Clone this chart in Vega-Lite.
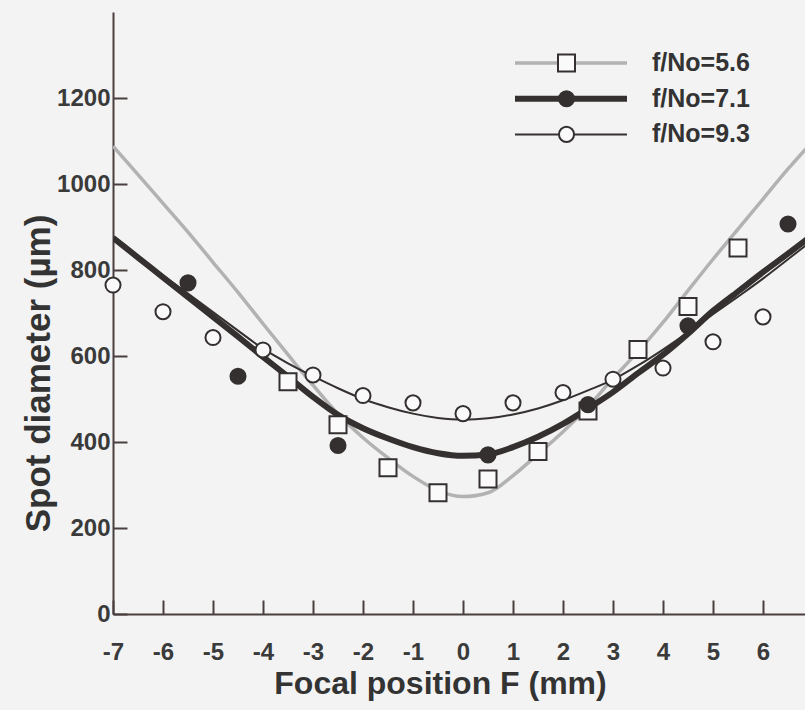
{
  "$schema": "https://vega.github.io/schema/vega-lite/v6.json",
  "width": 692,
  "height": 602,
  "autosize": {"type": "none"},
  "padding": {"left": 113, "top": 12, "right": 0, "bottom": 96},
  "background": "#f3f3f3",
  "config": {
    "view": {"stroke": null},
    "font": "Liberation Sans",
    "axis": {
      "grid": false,
      "domainColor": "#4a3f3f",
      "domainWidth": 2,
      "tickColor": "#4a3f3f",
      "tickWidth": 2,
      "tickSize": -14,
      "labelFont": "Liberation Sans",
      "labelFontSize": 24,
      "labelFontWeight": "bold",
      "labelColor": "#3a3a3a",
      "labelOverlap": false,
      "labelFlush": false,
      "labelExpr": "'' + datum.value",
      "titleFont": "Liberation Sans",
      "titleFontSize": 32,
      "titleFontWeight": "bold",
      "titleColor": "#333333"
    },
    "legend": {
      "labelFont": "Liberation Sans",
      "labelFontSize": 25,
      "labelFontWeight": "bold",
      "labelColor": "#333333"
    }
  },
  "datasets": {
    "curves": [
      {"F": -7, "d": 1088, "series": "f/No=5.6"},
      {"F": -6.5, "d": 1022, "series": "f/No=5.6"},
      {"F": -6, "d": 955, "series": "f/No=5.6"},
      {"F": -5.5, "d": 888, "series": "f/No=5.6"},
      {"F": -5, "d": 818, "series": "f/No=5.6"},
      {"F": -4.5, "d": 748, "series": "f/No=5.6"},
      {"F": -4, "d": 675, "series": "f/No=5.6"},
      {"F": -3.5, "d": 603, "series": "f/No=5.6"},
      {"F": -3, "d": 532, "series": "f/No=5.6"},
      {"F": -2.5, "d": 465, "series": "f/No=5.6"},
      {"F": -2, "d": 410, "series": "f/No=5.6"},
      {"F": -1.5, "d": 363, "series": "f/No=5.6"},
      {"F": -1, "d": 320, "series": "f/No=5.6"},
      {"F": -0.5, "d": 287, "series": "f/No=5.6"},
      {"F": 0, "d": 273, "series": "f/No=5.6"},
      {"F": 0.5, "d": 282, "series": "f/No=5.6"},
      {"F": 1, "d": 322, "series": "f/No=5.6"},
      {"F": 1.5, "d": 372, "series": "f/No=5.6"},
      {"F": 2, "d": 424, "series": "f/No=5.6"},
      {"F": 2.5, "d": 482, "series": "f/No=5.6"},
      {"F": 3, "d": 548, "series": "f/No=5.6"},
      {"F": 3.5, "d": 610, "series": "f/No=5.6"},
      {"F": 4, "d": 678, "series": "f/No=5.6"},
      {"F": 4.5, "d": 752, "series": "f/No=5.6"},
      {"F": 5, "d": 825, "series": "f/No=5.6"},
      {"F": 5.5, "d": 895, "series": "f/No=5.6"},
      {"F": 6, "d": 965, "series": "f/No=5.6"},
      {"F": 6.5, "d": 1035, "series": "f/No=5.6"},
      {"F": 7, "d": 1100, "series": "f/No=5.6"},
      {"F": -7, "d": 875, "series": "f/No=7.1"},
      {"F": -6.5, "d": 829, "series": "f/No=7.1"},
      {"F": -6, "d": 783, "series": "f/No=7.1"},
      {"F": -5.5, "d": 737, "series": "f/No=7.1"},
      {"F": -5, "d": 691, "series": "f/No=7.1"},
      {"F": -4.5, "d": 645, "series": "f/No=7.1"},
      {"F": -4, "d": 598, "series": "f/No=7.1"},
      {"F": -3.5, "d": 552, "series": "f/No=7.1"},
      {"F": -3, "d": 505, "series": "f/No=7.1"},
      {"F": -2.5, "d": 463, "series": "f/No=7.1"},
      {"F": -2, "d": 432, "series": "f/No=7.1"},
      {"F": -1.5, "d": 408, "series": "f/No=7.1"},
      {"F": -1, "d": 388, "series": "f/No=7.1"},
      {"F": -0.5, "d": 374, "series": "f/No=7.1"},
      {"F": 0, "d": 368, "series": "f/No=7.1"},
      {"F": 0.5, "d": 371, "series": "f/No=7.1"},
      {"F": 1, "d": 388, "series": "f/No=7.1"},
      {"F": 1.5, "d": 412, "series": "f/No=7.1"},
      {"F": 2, "d": 442, "series": "f/No=7.1"},
      {"F": 2.5, "d": 478, "series": "f/No=7.1"},
      {"F": 3, "d": 516, "series": "f/No=7.1"},
      {"F": 3.5, "d": 560, "series": "f/No=7.1"},
      {"F": 4, "d": 603, "series": "f/No=7.1"},
      {"F": 4.5, "d": 652, "series": "f/No=7.1"},
      {"F": 5, "d": 705, "series": "f/No=7.1"},
      {"F": 5.5, "d": 750, "series": "f/No=7.1"},
      {"F": 6, "d": 795, "series": "f/No=7.1"},
      {"F": 6.5, "d": 838, "series": "f/No=7.1"},
      {"F": 7, "d": 882, "series": "f/No=7.1"},
      {"F": -7, "d": 872, "series": "f/No=9.3"},
      {"F": -6.5, "d": 830, "series": "f/No=9.3"},
      {"F": -6, "d": 787, "series": "f/No=9.3"},
      {"F": -5.5, "d": 745, "series": "f/No=9.3"},
      {"F": -5, "d": 702, "series": "f/No=9.3"},
      {"F": -4.5, "d": 659, "series": "f/No=9.3"},
      {"F": -4, "d": 617, "series": "f/No=9.3"},
      {"F": -3.5, "d": 583, "series": "f/No=9.3"},
      {"F": -3, "d": 553, "series": "f/No=9.3"},
      {"F": -2.5, "d": 525, "series": "f/No=9.3"},
      {"F": -2, "d": 500, "series": "f/No=9.3"},
      {"F": -1.5, "d": 481, "series": "f/No=9.3"},
      {"F": -1, "d": 466, "series": "f/No=9.3"},
      {"F": -0.5, "d": 456, "series": "f/No=9.3"},
      {"F": 0, "d": 452, "series": "f/No=9.3"},
      {"F": 0.5, "d": 455, "series": "f/No=9.3"},
      {"F": 1, "d": 464, "series": "f/No=9.3"},
      {"F": 1.5, "d": 478, "series": "f/No=9.3"},
      {"F": 2, "d": 497, "series": "f/No=9.3"},
      {"F": 2.5, "d": 520, "series": "f/No=9.3"},
      {"F": 3, "d": 545, "series": "f/No=9.3"},
      {"F": 3.5, "d": 578, "series": "f/No=9.3"},
      {"F": 4, "d": 615, "series": "f/No=9.3"},
      {"F": 4.5, "d": 655, "series": "f/No=9.3"},
      {"F": 5, "d": 697, "series": "f/No=9.3"},
      {"F": 5.5, "d": 738, "series": "f/No=9.3"},
      {"F": 6, "d": 780, "series": "f/No=9.3"},
      {"F": 6.5, "d": 825, "series": "f/No=9.3"},
      {"F": 7, "d": 870, "series": "f/No=9.3"}
    ],
    "points": [
      {"F": -3.5, "d": 540, "fno": "f/No=5.6"},
      {"F": -2.5, "d": 440, "fno": "f/No=5.6"},
      {"F": -1.5, "d": 340, "fno": "f/No=5.6"},
      {"F": -0.5, "d": 282, "fno": "f/No=5.6"},
      {"F": 0.5, "d": 314, "fno": "f/No=5.6"},
      {"F": 1.5, "d": 378, "fno": "f/No=5.6"},
      {"F": 2.5, "d": 472, "fno": "f/No=5.6"},
      {"F": 3.5, "d": 615, "fno": "f/No=5.6"},
      {"F": 4.5, "d": 715, "fno": "f/No=5.6"},
      {"F": 5.5, "d": 851, "fno": "f/No=5.6"},
      {"F": -5.5, "d": 770, "fno": "f/No=7.1"},
      {"F": -4.5, "d": 553, "fno": "f/No=7.1"},
      {"F": -2.5, "d": 392, "fno": "f/No=7.1"},
      {"F": 0.5, "d": 370, "fno": "f/No=7.1"},
      {"F": 2.5, "d": 487, "fno": "f/No=7.1"},
      {"F": 4.5, "d": 670, "fno": "f/No=7.1"},
      {"F": 6.5, "d": 907, "fno": "f/No=7.1"},
      {"F": -7, "d": 765, "fno": "f/No=9.3"},
      {"F": -6, "d": 703, "fno": "f/No=9.3"},
      {"F": -5, "d": 643, "fno": "f/No=9.3"},
      {"F": -4, "d": 614, "fno": "f/No=9.3"},
      {"F": -3, "d": 556, "fno": "f/No=9.3"},
      {"F": -2, "d": 508, "fno": "f/No=9.3"},
      {"F": -1, "d": 491, "fno": "f/No=9.3"},
      {"F": 0, "d": 466, "fno": "f/No=9.3"},
      {"F": 1, "d": 491, "fno": "f/No=9.3"},
      {"F": 2, "d": 515, "fno": "f/No=9.3"},
      {"F": 3, "d": 546, "fno": "f/No=9.3"},
      {"F": 4, "d": 572, "fno": "f/No=9.3"},
      {"F": 5, "d": 633, "fno": "f/No=9.3"},
      {"F": 6, "d": 691, "fno": "f/No=9.3"}
    ]
  },
  "layer": [
    {
      "data": {"name": "curves"},
      "mark": {"type": "line", "clip": true, "interpolate": "monotone"},
      "encoding": {
        "x": {
          "field": "F", "type": "quantitative",
          "scale": {"domain": [-7, 6.84], "nice": false, "zero": false},
          "axis": {
            "values": [-7, -6, -5, -4, -3, -2, -1, 0, 1, 2, 3, 4, 5, 6],
            "labelPadding": 40,
            "title": "Focal position F (mm)",
            "titleX": 327, "titleY": 79, "titleAlign": "center", "titleBaseline": "alphabetic"
          }
        },
        "y": {
          "field": "d", "type": "quantitative",
          "scale": {"domain": [0, 1400], "nice": false},
          "axis": {
            "values": [0, 200, 400, 600, 800, 1000, 1200],
            "labelPadding": 17,
            "title": "Spot diameter (µm)",
            "titleFontSize": 35,
            "titleAngle": -90, "titleX": -75, "titleY": 361, "titleAlign": "center", "titleBaseline": "middle"
          }
        },
        "color": {
          "field": "series", "type": "nominal",
          "scale": {"range": ["#b2b2b2", "#353030", "#353030"]},
          "legend": {
            "orient": "none", "legendX": 399, "legendY": 41, "title": null,
            "symbolType": "stroke", "symbolSize": 12544, "clipHeight": 20, "rowPadding": 10.7,
            "labelOffset": 22, "padding": 0
          }
        },
        "strokeWidth": {
          "field": "series", "type": "nominal",
          "scale": {"type": "ordinal", "range": [3.5, 6, 2]}
        }
      }
    },
    {
      "data": {"name": "points"},
      "mark": {"type": "point", "filled": true, "stroke": "#353030", "strokeWidth": 2, "opacity": 1},
      "encoding": {
        "x": {"field": "F", "type": "quantitative"},
        "y": {"field": "d", "type": "quantitative"},
        "shape": {"field": "fno", "type": "nominal", "scale": {"range": ["square", "circle", "circle"]}},
        "fill": {
          "field": "fno", "type": "nominal",
          "scale": {"range": ["#fafafa", "#353030", "#fafafa"]},
          "legend": {
            "orient": "none", "legendX": 441, "legendY": 41, "title": null,
            "clipHeight": 20, "rowPadding": 10.7, "padding": 0,
            "labelExpr": "''", "symbolStrokeColor": "#353030", "symbolStrokeWidth": 2
          }
        },
        "size": {"field": "fno", "type": "nominal", "scale": {"type": "ordinal", "range": [289, 227, 227]}}
      }
    },
    {
      "mark": {"type": "rule", "color": "#4a3f3f", "strokeWidth": 2},
      "encoding": {"y": {"datum": 1400}}
    }
  ]
}
